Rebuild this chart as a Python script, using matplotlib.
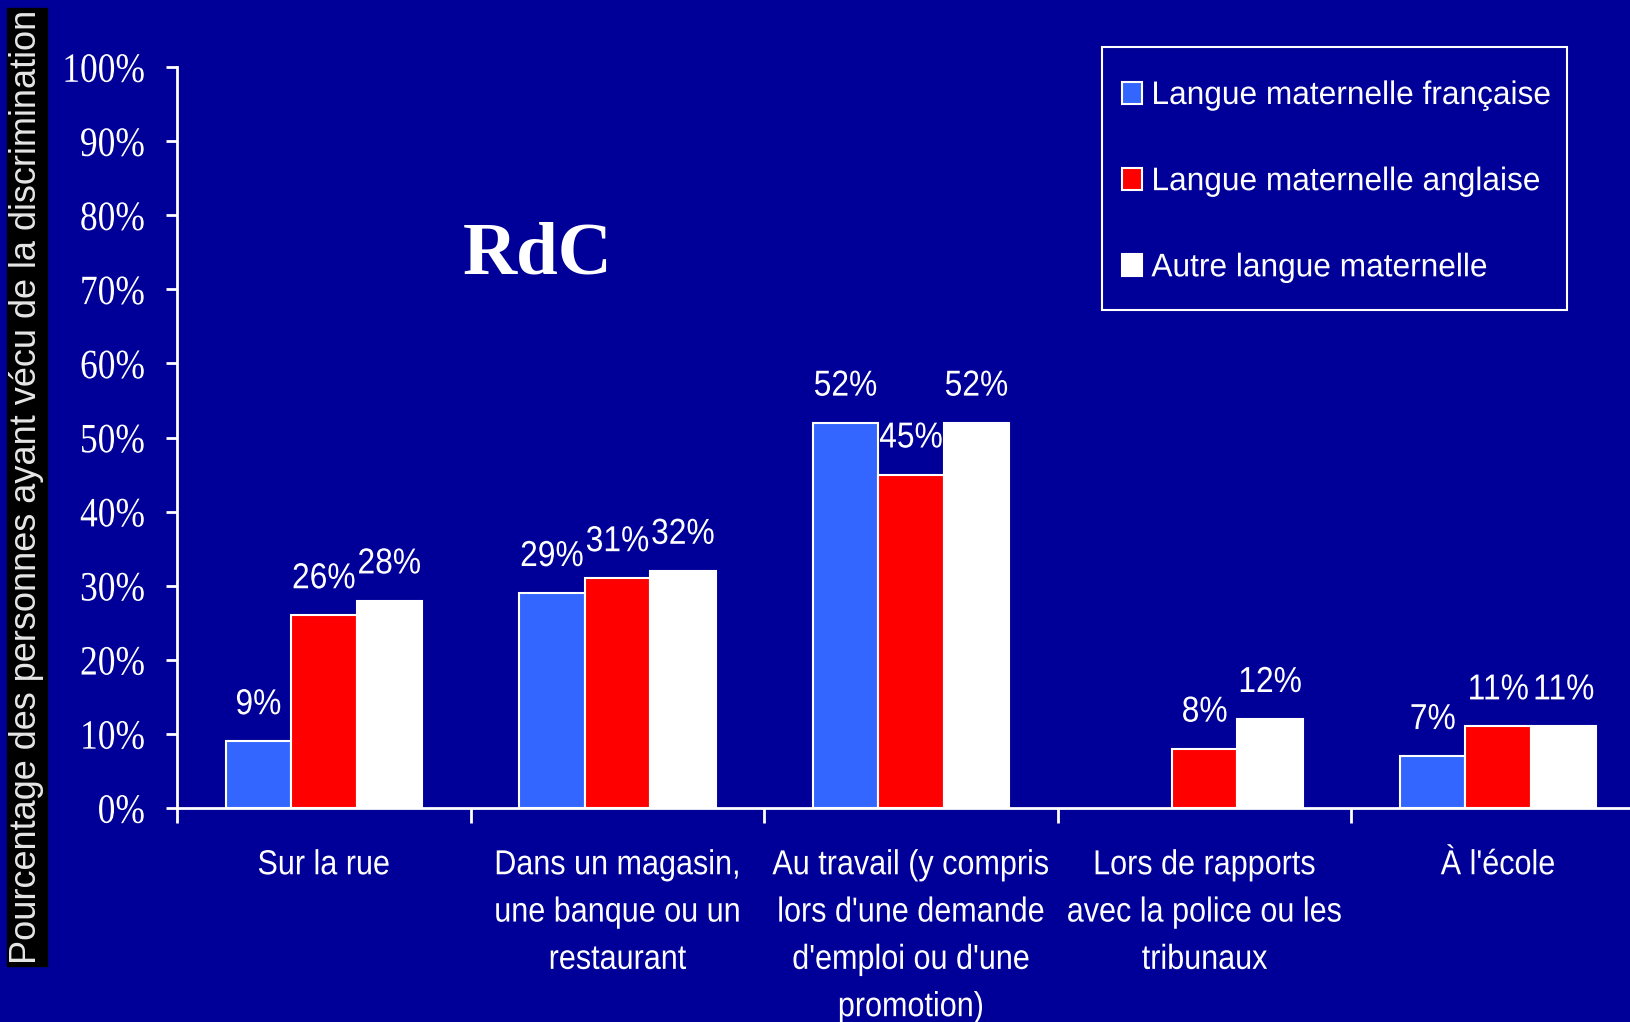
import numpy as np
import matplotlib
matplotlib.use("Agg")
import matplotlib.pyplot as plt
from matplotlib.patches import Rectangle
from matplotlib.patheffects import AbstractPathEffect
from matplotlib.transforms import Affine2D

# data
categories = ["Sur la rue",
              "Dans un magasin,\nune banque ou un\nrestaurant",
              "Au travail (y compris\nlors d'une demande\nd'emploi ou d'une\npromotion)",
              "Lors de rapports\navec la police ou les\ntribunaux",
              "À l'école"]
francaise = [9, 29, 52, np.nan, 7]
anglaise = [26, 31, 45, 8, 11]
autre = [28, 32, 52, 12, 11]
series_names = ["Langue maternelle française", "Langue maternelle anglaise", "Autre langue maternelle"]
y_ticks = list(range(0, 101, 10))


class HScale(AbstractPathEffect):
    # squeeze text horizontally (the original uses a condensed look)
    def __init__(self, sx, anchor="center"):
        super().__init__()
        self.sx = sx
        self.anchor = anchor

    def draw_path(self, renderer, gc, tpath, affine, rgbFace=None):
        if len(tpath.vertices) == 0:
            return
        ext = tpath.get_extents()
        if self.anchor == "left":
            cx = ext.x0
        elif self.anchor == "right":
            cx = ext.x1
        else:
            cx = (ext.x0 + ext.x1) / 2
        t = Affine2D().translate(-cx, 0).scale(self.sx, 1).translate(cx, 0) + affine
        renderer.draw_path(gc, tpath, t, rgbFace)


bg = "#000099"
colors = ["#3366FF", "#FF0000", "#FFFFFF"]
sans = "Liberation Sans"
serif = "Liberation Serif"

fig = plt.figure(figsize=(16.3, 10.22), dpi=100, facecolor=bg)
ax = fig.add_axes([0.1086, 0.2094, 0.9006, 0.725])
ax.set_facecolor(bg)

w = 0.223
x = np.arange(len(categories))
for i, (vals, c, name) in enumerate(zip([francaise, anglaise, autre], colors, series_names)):
    xs = x + (i - 1) * w
    ax.bar(xs, vals, w, color=c, edgecolor="white", linewidth=1.5, label=name, zorder=3)
    for xv, v in zip(xs, vals):
        if np.isnan(v):
            continue
        t = ax.annotate(f"{v:.0f}%", (xv, v), xytext=(0, 19.5), textcoords="offset points",
                        ha="center", va="baseline", color="white",
                        fontsize=26, family=sans, zorder=4)
        t.set_path_effects([HScale(0.88)])

ax.set_xlim(-0.5, 4.5)
ax.set_ylim(0, 100)
for s in ["top", "right"]:
    ax.spines[s].set_visible(False)
for s in ["left", "bottom"]:
    ax.spines[s].set_color("white")
    ax.spines[s].set_linewidth(2)

ax.set_yticks(y_ticks)
ax.set_yticklabels([f"{t}%" for t in y_ticks], family=serif, fontsize=30, color="white")
ax.tick_params(axis="y", direction="out", length=8, width=2, color="white", pad=15)
for lbl in ax.get_yticklabels():
    lbl.set_path_effects([HScale(0.85, "right")])

ax.set_xticks(x)
ax.set_xticklabels(categories, family=sans, fontsize=25, color="white", linespacing=1.55)
ax.tick_params(axis="x", which="major", length=0, pad=29)
for lbl in ax.get_xticklabels():
    lbl.set_path_effects([HScale(0.88)])
ax.set_xticks(np.arange(-0.5, 5, 1), minor=True)
ax.tick_params(axis="x", which="minor", direction="out", length=11, width=2, color="white")

# title inside plot
fig.text(0.3296, 1 - 256 / 1022, "RdC", family=serif, fontweight="bold",
         fontsize=54, color="white", ha="center", va="center")

# y label in black box
fig.patches.append(Rectangle((7 / 1630, 1 - 966 / 1022), 40 / 1630, 958 / 1022,
                             transform=fig.transFigure, color="black", zorder=0))
fig.text(27 / 1630, 1 - 487 / 1022, "Pourcentage des personnes ayant vécu de la discrimination",
         rotation=90, ha="center", va="center", color="#E6E6E6", fontsize=26, family=sans)

# legend frame drawn by hand, entries from the bars
fig.patches.append(Rectangle((1102 / 1630, 1 - 310 / 1022), 465 / 1630, 263 / 1022,
                             transform=fig.transFigure, facecolor="none", edgecolor="white",
                             linewidth=1.5, zorder=5))
leg = ax.legend(loc="upper left", bbox_to_anchor=(1122 / 1630, 1 - 80 / 1022),
                bbox_transform=fig.transFigure, frameon=False, borderpad=0, borderaxespad=0,
                prop={"family": sans, "size": 23.5},
                handlelength=0.6, handleheight=0.66, handletextpad=0.3,
                labelspacing=1.69)
leg.set_zorder(6)
for t in leg.get_texts():
    t.set_color("white")
    t.set_path_effects([HScale(0.97, "left")])

fig.savefig("out.png", dpi=100, facecolor=bg)
